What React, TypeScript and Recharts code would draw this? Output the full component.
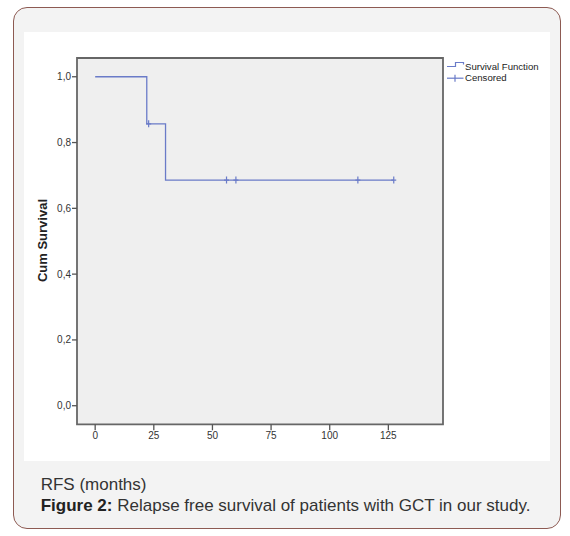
import React from 'react';
import {
  ComposedChart,
  Line,
  Scatter,
  XAxis,
  YAxis,
  ReferenceArea,
} from 'recharts';

// Kaplan-Meier step points (time in months, cumulative survival)
const stepTimes = [0, 22, 30, 127.3];
const stepSurvival = [1.0, 0.857, 0.686, 0.686];

// censored observations
const censorTimes = [22.8, 56, 60, 112, 127.3];
const censorSurvival = [0.857, 0.686, 0.686, 0.686, 0.686];

const xTicks = [0, 25, 50, 75, 100, 125];
const yTicks = [0, 0.2, 0.4, 0.6, 0.8, 1.0];

const xDomain: [number, number] = [-7.75, 148.3];
const yDomain: [number, number] = [-0.0565, 1.057];

const curveData = stepTimes.map((t, i) => ({ t, s: stepSurvival[i] }));
const censorData = censorTimes.map((t, i) => ({ t, s: censorSurvival[i] }));

const BLUE = '#6a7bc8';
const FONT = '"Liberation Sans", Arial, sans-serif';

const CensorMark = (props: any) => {
  const { cx, cy } = props;
  if (cx == null || cy == null) return null;
  return (
    <g>
      <line x1={cx} y1={cy - 3.5} x2={cx} y2={cy + 3.5} stroke={BLUE} strokeWidth={1.2} />
      <line x1={cx - 2.5} y1={cy} x2={cx + 2.5} y2={cy} stroke={BLUE} strokeWidth={1.2} />
    </g>
  );
};

const LegendBox = () => (
  <svg width={110} height={28} style={{ display: 'block' }}>
    <path d="M1,7.5 H9.5 V3.5 H17.5 V5.5" fill="none" stroke={BLUE} strokeWidth={1.2} />
    <text x={19} y={10.5} fontSize={9.6} fill="#222" fontFamily={FONT}>Survival Function</text>
    <line x1={1} y1={19.2} x2={17.5} y2={19.2} stroke={BLUE} strokeWidth={1.2} />
    <line x1={9} y1={15.7} x2={9} y2={22.7} stroke={BLUE} strokeWidth={1.2} />
    <text x={19} y={22.3} fontSize={9.6} fill="#222" fontFamily={FONT}>Censored</text>
  </svg>
);

const YLabel = (props: any) => {
  const vb = props.viewBox || { x: 0, y: 0, height: 0 };
  const cx = vb.x - 4.5;
  const cy = 208.5;
  return (
    <text
      x={cx}
      y={cy}
      transform={`rotate(-90, ${cx}, ${cy})`}
      textAnchor="middle"
      dominantBaseline="central"
      fontSize={13}
      fontWeight="bold"
      fill="#222"
      fontFamily={FONT}
    >
      Cum Survival
    </text>
  );
};

export default function App() {
  return (
    <div style={{ position: 'absolute', left: 0, top: 0, width: 570, height: 536, background: '#ffffff', fontFamily: FONT }}>
      <div
        style={{
          position: 'absolute',
          left: 13,
          top: 7,
          width: 546,
          height: 520,
          border: '1px solid #8d5a52',
          borderRadius: 14,
          background: '#f3f3f3',
        }}
      />
      <div style={{ position: 'absolute', left: 24, top: 32, width: 526, height: 429, background: '#ffffff' }}>
        <ComposedChart
          width={526}
          height={429}
          margin={{ top: 26, right: 107, bottom: 6.7, left: 23 }}
          style={{ fontFamily: FONT }}
        >
          <ReferenceArea
            x1={xDomain[0]}
            x2={xDomain[1]}
            y1={yDomain[0]}
            y2={yDomain[1]}
            fill="#efefef"
            fillOpacity={1}
            stroke="#666"
            strokeWidth={1.8}
          />
          <XAxis
            type="number"
            dataKey="t"
            domain={xDomain}
            ticks={xTicks}
            allowDataOverflow
            height={30}
            axisLine={false}
            tickSize={6}
            tickLine={{ stroke: '#555', strokeWidth: 1.3 }}
            tick={{ fontSize: 10, fill: '#333', fontFamily: FONT }}
          />
          <YAxis
            type="number"
            dataKey="s"
            domain={yDomain}
            ticks={yTicks}
            allowDataOverflow
            width={30}
            axisLine={false}
            tickSize={5}
            tickMargin={1}
            tickLine={{ stroke: '#555', strokeWidth: 1.3 }}
            tick={{ fontSize: 10, fill: '#333', fontFamily: FONT }}
            tickFormatter={(v: number) => v.toFixed(1).replace('.', ',')}
            label={<YLabel />}
          />
          <Line
            data={curveData}
            dataKey="s"
            type="stepAfter"
            stroke={BLUE}
            strokeWidth={1.3}
            dot={false}
            activeDot={false}
            isAnimationActive={false}
          />
          <Scatter
            data={censorData}
            dataKey="s"
            shape={<CensorMark />}
            isAnimationActive={false}
          />
        </ComposedChart>
        <div style={{ position: 'absolute', left: 421.5, top: 27 }}>
          <LegendBox />
        </div>
      </div>
      <div style={{ position: 'absolute', left: 40.7, top: 475, fontSize: 17, lineHeight: '20px', color: '#333', whiteSpace: 'nowrap' }}>
        RFS (months)
      </div>
      <div style={{ position: 'absolute', left: 40.7, top: 495.5, fontSize: 17, lineHeight: '20px', color: '#333', whiteSpace: 'nowrap' }}>
        <b style={{ color: '#222' }}>Figure 2:</b> Relapse free survival of patients with GCT in our study.
      </div>
    </div>
  );
}
